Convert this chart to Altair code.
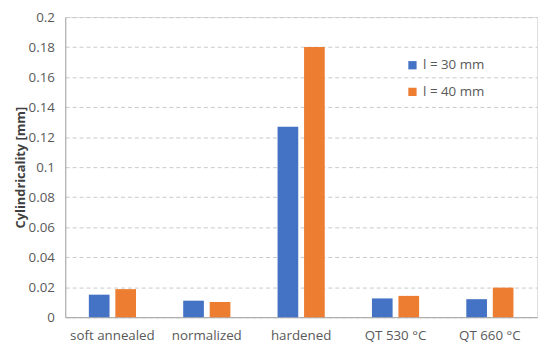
import altair as alt
import pandas as pd

categories = ["soft annealed", "normalized", "hardened", "QT 530 °C", "QT 660 °C"]
series = ["l = 30 mm", "l = 40 mm"]
vals_30 = [0.015, 0.011, 0.127, 0.0125, 0.012]
vals_40 = [0.0187, 0.0102, 0.180, 0.0142, 0.0197]
colors = ["#4472C4", "#ED7D31"]
y_ticks = [0, 0.02, 0.04, 0.06, 0.08, 0.1, 0.12, 0.14, 0.16, 0.18, 0.2]

rows = []
for c, a, b in zip(categories, vals_30, vals_40):
    rows.append({"cat": c, "series": series[0], "value": a})
    rows.append({"cat": c, "series": series[1], "value": b})
df = pd.DataFrame(rows)

font = "Open Sans"
fs = 13.5
chart = alt.Chart(df).mark_bar().encode(
    x=alt.X("cat:N", sort=categories,
            scale=alt.Scale(paddingInner=0.5, paddingOuter=0.25),
            axis=alt.Axis(title=None, labelAngle=0, ticks=False, domain=True,
                          domainColor="#A6A6A6", labelPadding=12,
                          labelFont=font, labelFontSize=fs, labelColor="#595959")),
    xOffset=alt.XOffset("series:N", sort=series,
                        scale=alt.Scale(paddingInner=0.22, paddingOuter=0)),
    y=alt.Y("value:Q", scale=alt.Scale(domain=[0, 0.2], nice=False),
            axis=alt.Axis(title="Cylindricality [mm]", values=y_ticks, format=".2~f",
                          ticks=False, domain=True, domainColor="#A6A6A6",
                          grid=True, gridDash=[4, 3], gridColor="#C8C8C8",
                          labelPadding=11, labelFont=font, labelFontSize=fs,
                          labelColor="#595959", titleFont=font, titleFontSize=13,
                          titleFontWeight="bold", titleColor="#404040", titlePadding=1)),
    color=alt.Color("series:N", sort=series,
                    scale=alt.Scale(domain=series, range=colors),
                    legend=alt.Legend(title=None, orient="none", legendX=345, legendY=42,
                                      symbolType="square", symbolSize=70,
                                      labelFont=font, labelFontSize=fs,
                                      labelColor="#595959", rowPadding=12,
                                      labelOffset=4)),
).properties(
    width=478, height=304,
    autosize=alt.AutoSizeParams(type="none"),
    padding={"left": 58, "top": 7, "right": 5, "bottom": 30},
).configure_view(
    stroke="#A6A6A6", strokeWidth=1.5
).configure(background="white")

chart.save("out.html", embed_options={"renderer": "svg", "actions": False})
